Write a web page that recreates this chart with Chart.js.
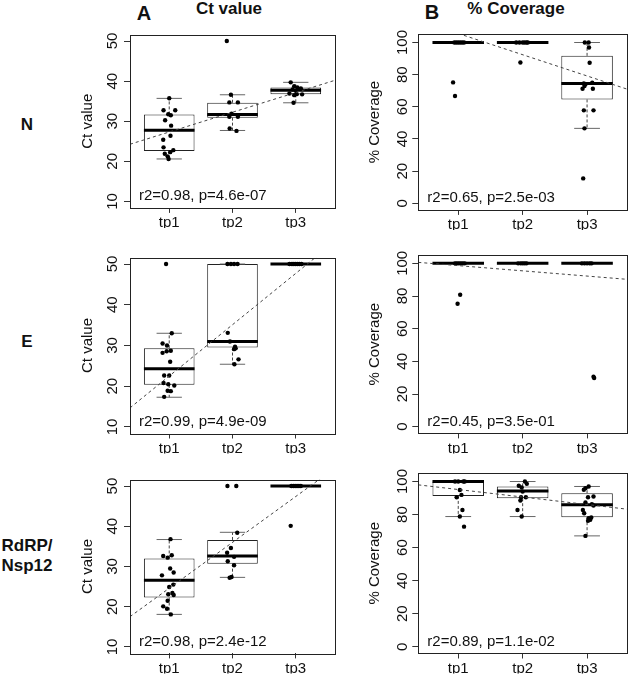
<!DOCTYPE html>
<html>
<head>
<meta charset="utf-8">
<script src="https://cdn.jsdelivr.net/npm/chart.js@4.4.1/dist/chart.umd.min.js"></script>
<style>
body{margin:0;width:631px;height:676px;position:relative;overflow:hidden;background:#fff;font-family:"Liberation Sans",Arial,sans-serif;color:#111}
canvas{position:absolute}
.lbl{position:absolute;font-weight:bold;line-height:1;white-space:nowrap;transform:translate(-50%,-50%);text-align:center}
</style>
</head>
<body>
<div class="lbl" style="left:144px;top:13px;font-size:20px">A</div>
<div class="lbl" style="left:229px;top:8px;font-size:17px">Ct value</div>
<div class="lbl" style="left:432px;top:12px;font-size:20px">B</div>
<div class="lbl" style="left:516px;top:8px;font-size:17px">% Coverage</div>
<div class="lbl" style="left:27px;top:124px;font-size:17px">N</div>
<div class="lbl" style="left:27px;top:341px;font-size:17px">E</div>
<div class="lbl" style="left:27px;top:556px;font-size:17px;line-height:20px">RdRP/<br>Nsp12</div>

<canvas id="ctN" width="280" height="220" style="left:60px;top:20px"></canvas>
<canvas id="covN" width="291" height="220" style="left:340px;top:20px"></canvas>
<canvas id="ctE" width="280" height="220" style="left:60px;top:240px"></canvas>
<canvas id="covE" width="291" height="220" style="left:340px;top:240px"></canvas>
<canvas id="ctR" width="280" height="216" style="left:60px;top:460px"></canvas>
<canvas id="covR" width="291" height="216" style="left:340px;top:460px"></canvas>

<script>
Chart.defaults.font.family = "'Liberation Sans', Arial, sans-serif";
Chart.defaults.font.size = 15;
Chart.defaults.color = "#111";

const timepoints = ["tp1", "tp2", "tp3"];
const ctTicks = [10, 20, 30, 40, 50];
const covTicks = [0, 20, 40, 60, 80, 100];

// box stats per timepoint: [lower whisker, Q1, median, Q3, upper whisker]
const boxCtN = [[20.6, 22.6, 27.75, 31.7, 35.7], [27.7, 30.9, 31.7, 34.6, 36.6], [34.6, 36.7, 37.75, 38.4, 39.7]];
const boxCovN = [[100, 100, 100, 100, 100], [100, 100, 100, 100, 100], [46.6, 64.6, 74.5, 91.7, 100]];
const boxCtE = [[17.3, 20.35, 24.3, 29.3, 33.0], [25.4, 29.5, 31.0, 50, 50], [50, 50, 50, 50, 50]];
const boxCovE = [[100, 100, 100, 100, 100], [100, 100, 100, 100, 100], [100, 100, 100, 100, 100]];
const boxCtR = [[18.1, 22.3, 26.6, 32.0, 36.7], [27.3, 30.7, 32.6, 36.6, 38.5], [50, 50, 50, 50, 50]];
const boxCovR = [[78.8, 91.3, 100, 100, 100], [78.8, 89.9, 94.3, 97.0, 100], [67.1, 78.4, 85.9, 92.9, 97.0]];

// samples: [timepoint, jitter, value]
const ptsCtN = [
  [1, 0.00, 35.75], [1, -0.09, 32.75], [1, 0.095, 32.75], [1, -0.015, 31.75], [1, 0.025, 31.5],
  [1, -0.065, 30.25], [1, 0.03, 28.9], [1, 0.02, 26.4], [1, -0.095, 25.4], [1, -0.09, 23.5],
  [1, 0.065, 22.8], [1, 0.015, 22.3], [1, -0.07, 21.9], [1, -0.025, 21.25], [1, -0.01, 20.6],
  [2, -0.09, 50], [2, -0.025, 36.6], [2, -0.05, 34.7], [2, 0.085, 34.7], [2, -0.015, 31.9],
  [2, -0.05, 31.1], [2, 0.085, 31.1], [2, -0.045, 28.2], [2, 0.063, 27.6],
  [3, -0.08, 39.7], [3, -0.025, 38.75], [3, 0.025, 38.4], [3, 0.08, 38.2], [3, -0.05, 37.9],
  [3, 0.00, 37.6], [3, -0.1, 36.9], [3, -0.025, 36.5], [3, 0.015, 36.75], [3, 0.1, 36.7], [3, -0.035, 34.6]
];
const ptsCovN = [
  [1, -0.06, 100], [1, -0.03, 100], [1, 0.00, 100], [1, 0.03, 100], [1, 0.06, 100], [1, 0.09, 100],
  [1, -0.08, 75.2], [1, -0.05, 66.7],
  [2, -0.1, 100], [2, -0.05, 100], [2, 0.00, 100], [2, 0.03, 100], [2, 0.06, 100], [2, 0.08, 100],
  [2, -0.035, 87.6],
  [3, -0.035, 100], [3, 0.025, 100], [3, 0.03, 96.9], [3, 0.04, 87.4], [3, -0.05, 74.5],
  [3, -0.025, 74.1], [3, 0.08, 75], [3, -0.04, 72.9], [3, -0.07, 71.2], [3, 0.09, 71.2],
  [3, -0.05, 57.8], [3, 0.1, 57.8], [3, -0.04, 46.6], [3, -0.06, 15.5]
];
const ptsCtE = [
  [1, -0.05, 50], [1, 0.04, 33.0], [1, -0.105, 30.5], [1, -0.035, 30.0], [1, -0.105, 28.2],
  [1, -0.04, 28.6], [1, 0.025, 28.7], [1, 0.015, 26.0], [1, -0.08, 22.65], [1, 0.00, 22.65],
  [1, -0.09, 20.8], [1, -0.015, 20.5], [1, 0.08, 20.2], [1, -0.025, 18.9], [1, 0.025, 18.8], [1, -0.08, 17.4],
  [2, -0.08, 50], [2, -0.025, 50], [2, 0.025, 50], [2, 0.08, 50], [2, -0.075, 33.1], [2, -0.04, 31.0],
  [2, 0.04, 29.7], [2, 0.05, 29.3], [2, 0.025, 29.1], [2, 0.095, 26.6], [2, 0.03, 25.4],
  [3, -0.1, 50], [3, -0.06, 50], [3, -0.03, 50], [3, 0.00, 50], [3, 0.03, 50], [3, 0.06, 50], [3, 0.09, 50]
];
const ptsCovE = [
  [1, -0.05, 100], [1, -0.02, 100], [1, 0.01, 100], [1, 0.04, 100], [1, 0.07, 100], [1, 0.1, 100],
  [1, 0.03, 80.8], [1, -0.01, 75.3],
  [2, -0.07, 100], [2, -0.03, 100], [2, 0.00, 100], [2, 0.03, 100], [2, 0.06, 100],
  [3, -0.08, 100], [3, -0.04, 100], [3, 0.00, 100], [3, 0.04, 100], [3, 0.07, 100],
  [3, 0.1, 30.6], [3, 0.11, 29.8]
];
const ptsCtR = [
  [1, 0.02, 36.8], [1, -0.095, 32.6], [1, -0.025, 32.2], [1, 0.04, 32.8], [1, 0.015, 29.5],
  [1, 0.07, 28.5], [1, -0.115, 27.8], [1, 0.065, 25.5], [1, 0.00, 24.9], [1, -0.015, 23.1],
  [1, 0.05, 23.4], [1, 0.07, 22.9], [1, -0.025, 21.5], [1, -0.095, 20.1], [1, -0.035, 19.5], [1, 0.025, 18.1],
  [2, -0.08, 50], [2, 0.06, 50], [2, 0.075, 38.4], [2, -0.025, 34.6], [2, -0.085, 33.4],
  [2, 0.025, 32.4], [2, -0.075, 31.3], [2, 0.025, 30.3], [2, -0.015, 27.4], [2, -0.045, 27.2],
  [3, -0.07, 50], [3, -0.04, 50], [3, -0.01, 50], [3, 0.02, 50], [3, 0.05, 50], [3, 0.08, 50], [3, -0.08, 40.1]
];
const ptsCovR = [
  [1, -0.05, 100], [1, 0.00, 100], [1, 0.08, 100], [1, 0.1, 100], [1, 0.025, 94.9],
  [1, 0.05, 91.9], [1, -0.025, 90.5], [1, 0.065, 82.8], [1, 0.025, 78.8], [1, 0.09, 72.7],
  [2, 0.035, 100], [2, 0.065, 98.6], [2, -0.06, 97.4], [2, -0.015, 96.4], [2, 0.00, 93.9],
  [2, -0.025, 90.5], [2, 0.05, 90.5], [2, -0.035, 88.5], [2, -0.08, 82.8], [2, -0.015, 78.8],
  [3, 0.025, 97], [3, -0.025, 96], [3, -0.05, 95], [3, 0.015, 90.5], [3, 0.1, 90.9],
  [3, -0.025, 87.3], [3, 0.075, 86.3], [3, 0.1, 85.5], [3, -0.065, 82.8], [3, -0.045, 80.8],
  [3, 0.025, 77.8], [3, 0.05, 76.8], [3, 0.015, 76.2], [3, 0.065, 78.2], [3, -0.025, 67.1]
];

// fitted line: [intercept, slope]
const fitCtN = [22.4, 4.92];
const fitCovN = [118.8, -13.2];
const fitCtE = [9.9, 12.6];
const fitCovE = [101.8, -3.2];
const fitCtR = [13.2, 11.4];
const fitCovR = [99.7, -4.54];

const statCtN = "r2=0.98, p=4.6e-07";
const statCovN = "r2=0.65, p=2.5e-03";
const statCtE = "r2=0.99, p=4.9e-09";
const statCovE = "r2=0.45, p=3.5e-01";
const statCtR = "r2=0.98, p=2.4e-12";
const statCovR = "r2=0.89, p=1.1e-02";

const xMin = 0.38, xMax = 3.62;

function makePanel(id, box, pts, fit, stat, isCt, pad) {
  let medians = [], whiskers = [], caps = [];
  box.forEach((b, i) => {
    let c = i + 1;
    medians.push({x: c - 0.4, y: b[2]}, {x: c + 0.4, y: b[2]}, {x: c, y: null});
    whiskers.push({x: c, y: b[3]}, {x: c, y: b[4]}, {x: c, y: null});
    whiskers.push({x: c, y: b[1]}, {x: c, y: b[0]}, {x: c, y: null});
    caps.push({x: c - 0.2, y: b[4]}, {x: c + 0.2, y: b[4]}, {x: c, y: null});
    caps.push({x: c - 0.2, y: b[0]}, {x: c + 0.2, y: b[0]}, {x: c, y: null});
  });
  let frame = {
    id: "frame",
    afterDatasetsDraw(chart) {
      let a = chart.chartArea, ctx = chart.ctx;
      ctx.save();
      ctx.strokeStyle = "#222";
      ctx.lineWidth = 1;
      ctx.strokeRect(Math.round(a.left) + 0.5, Math.round(a.top) + 0.5, Math.round(a.right - a.left), Math.round(a.bottom - a.top));
      ctx.fillStyle = "#111";
      ctx.font = "15px 'Liberation Sans', Arial, sans-serif";
      ctx.textBaseline = "alphabetic";
      ctx.fillText(stat, a.left + 9, a.bottom - 7.5);
      ctx.restore();
    }
  };
  new Chart(document.getElementById(id), {
    type: "bar",
    data: {
      datasets: [
        {
          type: "bar",
          data: box.map((b, i) => ({x: i + 1, y: [b[1], b[3]]})),
          backgroundColor: "#fff",
          borderColor: "#222",
          borderWidth: 1,
          borderSkipped: false,
          barPercentage: 0.8,
          categoryPercentage: 1,
          order: 6
        },
        {
          type: "line", data: whiskers, borderColor: "#444", borderWidth: 1,
          borderDash: [3, 2], pointRadius: 0, spanGaps: false, order: 5
        },
        {
          type: "line", data: caps, borderColor: "#666", borderWidth: 1,
          pointRadius: 0, spanGaps: false, order: 4
        },
        {
          type: "line", data: medians, borderColor: "#000", borderWidth: 3,
          pointRadius: 0, spanGaps: false, borderCapStyle: "butt", order: 3
        },
        {
          type: "scatter",
          data: pts.map(p => ({x: p[0] + p[1], y: p[2]})),
          backgroundColor: "#000", borderWidth: 0, pointRadius: 2.2, order: 2
        },
        {
          type: "line",
          data: [{x: xMin, y: fit[0] + fit[1] * xMin}, {x: xMax, y: fit[0] + fit[1] * xMax}],
          borderColor: "#444", borderWidth: 1, borderDash: [3, 3], pointRadius: 0, order: 1
        }
      ]
    },
    options: {
      responsive: false,
      animation: false,
      events: [],
      layout: {padding: {top: pad.top, bottom: pad.bottom, left: 0, right: pad.right}},
      plugins: {legend: {display: false}, tooltip: {enabled: false}},
      scales: {
        x: {
          type: "linear", min: xMin, max: xMax, offset: false,
          afterBuildTicks: s => { s.ticks = timepoints.map((t, i) => ({value: i + 1})); },
          afterFit: s => { s.height = 20; },
          ticks: {callback: (v, i) => timepoints[i], autoSkip: false, maxRotation: 0, padding: 1},
          grid: {drawOnChartArea: false, tickLength: 5, tickColor: "#333", offset: false},
          border: {display: false}
        },
        y: {
          min: isCt ? 8.4 : -4.1, max: isCt ? 51.6 : 105.1,
          afterBuildTicks: s => { s.ticks = (isCt ? ctTicks : covTicks).map(v => ({value: v})); },
          afterFit: s => { s.width = pad.yw; },
          ticks: {minRotation: 90, maxRotation: 90, crossAlign: "center", padding: pad.tp, autoSkip: false},
          grid: {drawOnChartArea: false, tickLength: 6, tickColor: "#333"},
          border: {display: false},
          title: {display: true, text: isCt ? "Ct value" : "% Coverage", font: {size: 15}, padding: {top: pad.tt, bottom: 0}}
        }
      }
    },
    plugins: [frame]
  });
}

makePanel("ctN", boxCtN, ptsCtN, fitCtN, statCtN, true, {top: 14.6, bottom: 12.1, right: 5, yw: 70, tp: 3, tt: 18.5});
makePanel("covN", boxCovN, ptsCovN, fitCovN, statCovN, false, {top: 14.3, bottom: 10.1, right: 1, yw: 78.3, tp: -3, tt: 26});
makePanel("ctE", boxCtE, ptsCtE, fitCtE, statCtE, true, {top: 17.5, bottom: 6.5, right: 5, yw: 70, tp: 3, tt: 18.5});
makePanel("covE", boxCovE, ptsCovE, fitCovE, statCovE, false, {top: 15, bottom: 6.6, right: 1, yw: 78.3, tp: -3, tt: 26});
makePanel("ctR", boxCtR, ptsCtR, fitCtR, statCtR, true, {top: 19.6, bottom: 2.6, right: 5, yw: 70, tp: 3, tt: 18.5});
makePanel("covR", boxCovR, ptsCovR, fitCovR, statCovR, false, {top: 13.1, bottom: 2.5, right: 1, yw: 78.3, tp: -3, tt: 26});
</script>
</body>
</html>
